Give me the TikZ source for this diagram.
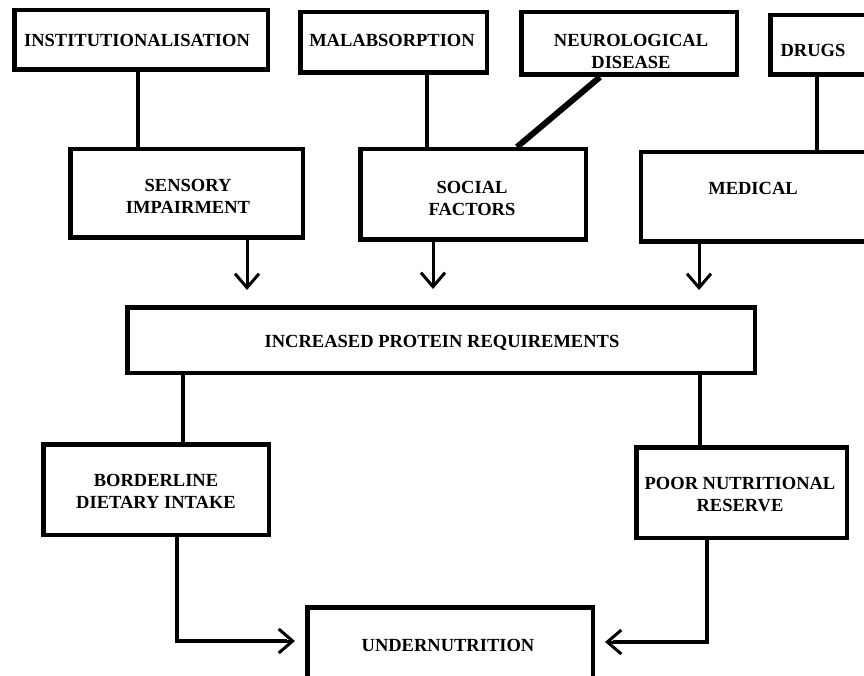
\documentclass[tikz,border=0pt]{standalone}
\usepackage{fontspec}
\setmainfont{Liberation Serif}
\usetikzlibrary{arrows.meta}
\begin{document}
\begin{tikzpicture}[x=1pt,y=-1pt,
  box/.style={draw, line width=4.5pt, inner sep=0pt},
  txt/.style={align=center, inner sep=0pt, font=\bfseries\fontsize{18.5}{22}\selectfont},
  link/.style={line width=3.5pt},
  thicklink/.style={line width=6pt},
  flow/.style={line width=3pt, -{Straight Barb[length=14pt,width=24pt]}}]
\useasboundingbox (0,0) rectangle (864,676);
\clip (0,0) rectangle (864,676);
% boxes
\node[box, minimum width=253.5pt, minimum height=59.5pt] (inst) at (141,40) {};
\node[box, minimum width=186.5pt, minimum height=60.5pt] (malab) at (393.5,42.5) {};
\node[box, minimum width=215.5pt, minimum height=62.5pt] (neuro) at (629,43.5) {};
\node[box, minimum width=107.5pt, minimum height=59.5pt] (drugs) at (824,45) {};
\node[box, minimum width=232.5pt, minimum height=88.5pt] (sens) at (186.5,193.5) {};
\node[box, minimum width=225.5pt, minimum height=90.5pt] (soc) at (473,194.5) {};
\node[box, minimum width=247pt, minimum height=89.5pt] (med) at (764.5,197) {};
\node[box, minimum width=627.5pt, minimum height=65.5pt] (incr) at (441,340) {};
\node[box, minimum width=225.5pt, minimum height=90.5pt] (bord) at (156,489.5) {};
\node[box, minimum width=210.5pt, minimum height=90.5pt] (poor) at (741.5,492.5) {};
\node[box, minimum width=285.5pt, minimum height=80.5pt] (under) at (450,647.5) {};
% texts
\node[txt] (instT) at (137,40) {INSTITUTIONALISATION};
\node[txt] (malabT) at (392,40) {MALABSORPTION};
\node[txt] (neuroT) at (631,51) {NEUROLOGICAL\\DISEASE};
\node[txt] (drugsT) at (813,50) {DRUGS};
\node[txt] (sensT) at (188,196) {SENSORY\\IMPAIRMENT};
\node[txt] (socT) at (472,198) {SOCIAL\\FACTORS};
\node[txt] (medT) at (753,188) {MEDICAL};
\node[txt] (incrT) at (442,343) {INCREASED PROTEIN REQUIREMENTS};
\node[txt] (bordT) at (156,491) {BORDERLINE\\DIETARY INTAKE};
\node[txt] (poorT) at (740,495) {POOR NUTRITIONAL\\RESERVE};
\node[txt] (underT) at (448,645) {UNDERNUTRITION};
% connector ends
\coordinate (a1) at (247,290);
\coordinate (a2) at (433,289);
\coordinate (a3) at (699,290);
\coordinate (a4) at (295,641);
\coordinate (a5) at (605,642);
% connectors
\draw[link] (inst.south -| 138,0) -- (sens.north -| 138,0);
\draw[link] (malab.south -| 427,0) -- (soc.north -| 427,0);
\draw[thicklink] (neuro.south -| 600,0) -- (soc.north -| 517,0);
\draw[link] (drugs.south -| 817,0) -- (med.north -| 817,0);
\draw[flow] (sens.south -| a1) -- (a1);
\draw[flow] (soc.south -| a2) -- (a2);
\draw[flow] (med.south -| a3) -- (a3);
\draw[link] (incr.south -| 183,0) -- (bord.north -| 183,0);
\draw[link] (incr.south -| 700,0) -- (poor.north -| 700,0);
\draw[link] (bord.south -| 177,0) |- ([xshift=-8pt]a4);
\draw[flow] ([xshift=-12pt]a4) -- (a4);
\draw[link] (poor.south -| 707,0) |- ([xshift=8pt]a5);
\draw[flow] ([xshift=12pt]a5) -- (a5);
\end{tikzpicture}
\end{document}
